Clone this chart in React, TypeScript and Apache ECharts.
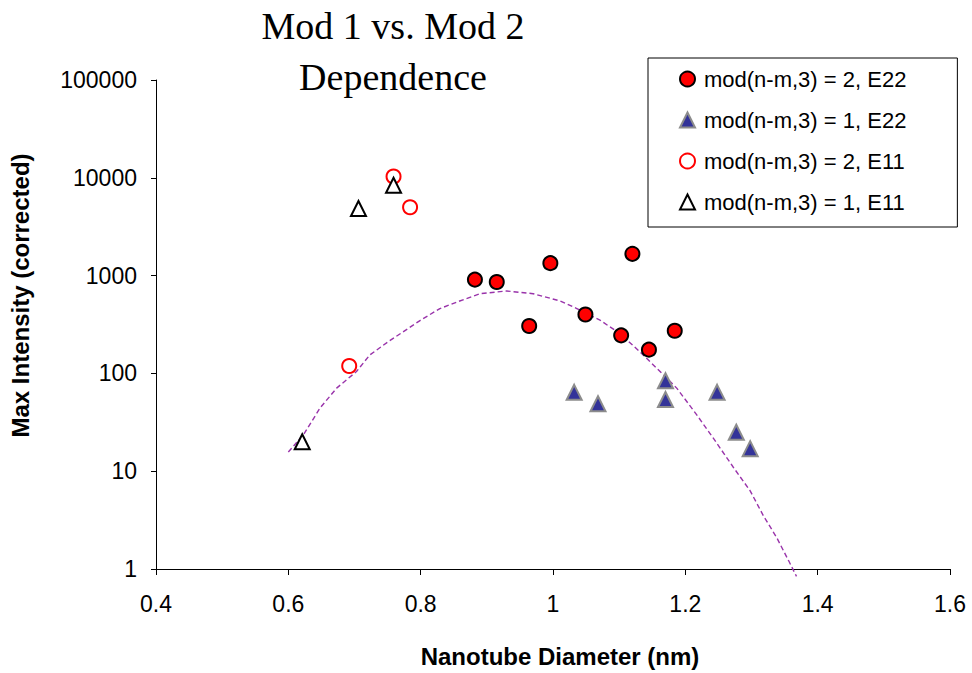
import React, { useEffect, useRef } from "react";
import * as echarts from "echarts";

// mod(n-m,3) = 2, E22 (filled red circles)
const e22Mod2X = [0.882, 0.915, 0.996, 1.12, 0.964, 1.049, 1.103, 1.145, 1.184];
const e22Mod2Y = [910, 860, 1340, 1670, 305, 400, 245, 175, 273];
// mod(n-m,3) = 1, E22 (blue triangles)
const e22Mod1X = [1.032, 1.068, 1.17, 1.17, 1.248, 1.277, 1.298];
const e22Mod1Y = [64, 49, 84, 54, 64, 25, 17];
// mod(n-m,3) = 2, E11 (open red circles)
const e11Mod2X = [0.759, 0.784, 0.692];
const e11Mod2Y = [10300, 5000, 119];
// mod(n-m,3) = 1, E11 (open black triangles)
const e11Mod1X = [0.759, 0.706, 0.621];
const e11Mod1Y = [8400, 4850, 20];
// dashed fit curve
const fitX = [0.6, 0.623, 0.648, 0.673, 0.703, 0.723, 0.751, 0.799, 0.829, 0.859, 0.89, 0.93, 0.97, 1.011, 1.036, 1.071, 1.101, 1.131, 1.167, 1.187, 1.217, 1.242, 1.272, 1.298, 1.318, 1.338, 1.356, 1.368];
const fitY = [15.7, 23.7, 44.3, 70.7, 104.5, 154, 211, 347, 460, 550, 653, 696, 653, 550, 460, 350, 256, 167, 96.6, 70.7, 37.9, 21.9, 11.1, 6.3, 3.5, 2.1, 1.22, 0.84];

const seriesNames = [
  "mod(n-m,3) = 2, E22",
  "mod(n-m,3) = 1, E22",
  "mod(n-m,3) = 2, E11",
  "mod(n-m,3) = 1, E11",
];
const xTicks = { min: 0.4, max: 1.6, interval: 0.2 };
const yTicks = { min: 1, max: 100000 };

const zip = (xs: number[], ys: number[]) => xs.map((x, i) => [x, ys[i]]);

const SANS = "'Liberation Sans', Arial, sans-serif";

export default function App() {
  const ref = useRef<HTMLDivElement>(null);
  useEffect(() => {
    if (!ref.current) return;
    const chart = echarts.init(ref.current, undefined, { renderer: "svg" });
    chart.setOption({
      animation: false,
      backgroundColor: "#fff",
      title: {
        text: "Mod 1 vs. Mod 2\nDependence",
        left: 393,
        top: 0,
        padding: 0,
        textAlign: "center",
        textStyle: {
          fontFamily: "'Liberation Serif', 'Times New Roman', serif",
          fontSize: 38,
          fontWeight: "normal",
          lineHeight: 51,
          color: "#000",
        },
      },
      legend: {
        data: seriesNames,
        orient: "vertical",
        left: 648,
        top: 58,
        padding: [10, 51, 14, 31],
        itemGap: 19,
        itemWidth: 15,
        itemHeight: 15,
        backgroundColor: "#fff",
        borderColor: "#000",
        borderWidth: 1,
        borderRadius: 0,
        textStyle: {
          fontFamily: SANS,
          fontSize: 22,
          color: "#000",
          padding: [0, 0, 0, 4],
        },
      },
      grid: { left: 156, right: 22, top: 80, bottom: 101 },
      xAxis: {
        type: "value",
        min: xTicks.min,
        max: xTicks.max,
        interval: xTicks.interval,
        name: "Nanotube Diameter (nm)",
        nameLocation: "middle",
        nameGap: 75,
        nameTextStyle: {
          fontFamily: SANS,
          fontSize: 24,
          fontWeight: "bold",
          color: "#000",
          padding: [0, 0, 0, 14],
        },
        axisLine: { show: true, lineStyle: { color: "#000", width: 1 } },
        axisTick: { show: true, length: 6, lineStyle: { color: "#000" } },
        axisLabel: { fontFamily: SANS, fontSize: 23, color: "#000", margin: 23 },
        splitLine: { show: false },
      },
      yAxis: {
        type: "log",
        logBase: 10,
        min: yTicks.min,
        max: yTicks.max,
        name: "Max Intensity (corrected)",
        nameLocation: "middle",
        nameGap: 124,
        nameTextStyle: {
          fontFamily: SANS,
          fontSize: 24,
          fontWeight: "bold",
          color: "#000",
          padding: [0, 0, 0, 58],
        },
        axisLine: { show: true, lineStyle: { color: "#000", width: 1 } },
        axisTick: { show: true, length: 5, lineStyle: { color: "#000" } },
        axisLabel: {
          fontFamily: SANS,
          fontSize: 23,
          color: "#000",
          margin: 19,
          formatter: (v: number) => String(Math.round(v)),
        },
        splitLine: { show: false },
        minorTick: { show: false },
      },
      series: [
        {
          type: "line",
          name: "fit",
          data: zip(fitX, fitY),
          showSymbol: false,
          symbol: "none",
          clip: false,
          smooth: false,
          z: 1,
          lineStyle: { color: "#9933aa", width: 1.4, type: [5, 3] },
        },
        {
          type: "scatter",
          name: seriesNames[0],
          data: zip(e22Mod2X, e22Mod2Y),
          symbol: "circle",
          symbolSize: 14,
          z: 3,
          itemStyle: { color: "#ff0000", borderColor: "#000", borderWidth: 2, opacity: 1 },
        },
        {
          type: "scatter",
          name: seriesNames[1],
          data: zip(e22Mod1X, e22Mod1Y),
          symbol: "triangle",
          symbolSize: 15,
          z: 3,
          itemStyle: { color: "#333399", borderColor: "#8c8c8c", borderWidth: 2, opacity: 1 },
        },
        {
          type: "scatter",
          name: seriesNames[2],
          data: zip(e11Mod2X, e11Mod2Y),
          symbol: "circle",
          symbolSize: 14,
          z: 3,
          itemStyle: { color: "#fff", borderColor: "#ff0000", borderWidth: 2, opacity: 1 },
        },
        {
          type: "scatter",
          name: seriesNames[3],
          data: zip(e11Mod1X, e11Mod1Y),
          symbol: "triangle",
          symbolSize: 15,
          z: 4,
          itemStyle: { color: "#fff", borderColor: "#000", borderWidth: 2, opacity: 1 },
        },
      ],
    });
    return () => chart.dispose();
  }, []);
  return (
    <div
      ref={ref}
      style={{ position: "fixed", left: 0, top: 0, width: 972, height: 673 }}
    />
  );
}
